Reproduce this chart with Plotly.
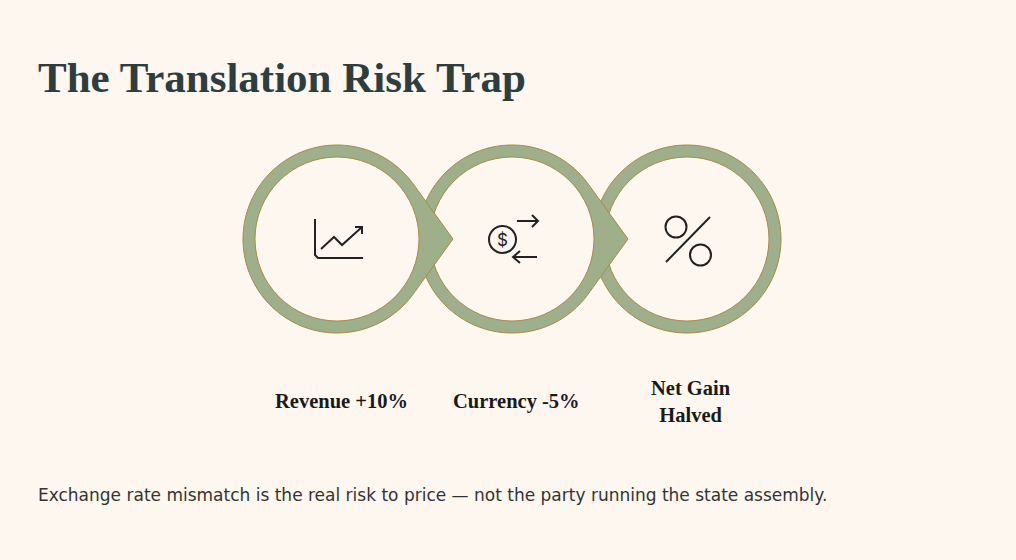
import numpy as np
import plotly.graph_objects as go

# ---- content
title = "The Translation Risk Trap"
steps = ["Revenue +10%", "Currency -5%", "Net Gain<br>Halved"]
icons = ["chart", "exchange", "percent"]
caption = ("Exchange rate mismatch is the real risk to price \u2014 "
           "not the party running the state assembly.")

# ---- look
BG = "#fdf7f0"
GREEN = "#9db08a"
EDGE = "#a88a45"
INK = "#222222"
W, H = 1016, 560
CX0, STEP, CY = 337, 175, 239
R_OUT, R_IN, TIP = 94, 82, 116

fig = go.Figure()
shapes = []


def teardrop(cx, cy, pointed=True):
    a = np.arccos(R_OUT / TIP) if pointed else 0.0
    t = np.linspace(a, 2 * np.pi - a, 160)
    xs = cx + R_OUT * np.cos(t)
    ys = cy + R_OUT * np.sin(t)
    p = "M %.2f %.2f " % (xs[0], ys[0])
    p += " ".join("L %.2f %.2f" % (x, y) for x, y in zip(xs[1:], ys[1:]))
    if pointed:
        p += " L %.2f %.2f" % (cx + TIP, cy)
    return p + " Z"


def line(x0, y0, x1, y1):
    return dict(type="line", x0=x0, y0=y0, x1=x1, y1=y1,
                line=dict(color=INK, width=2))


def poly(pts):
    p = "M " + " L ".join("%.1f %.1f" % xy for xy in pts)
    return dict(type="path", path=p, line=dict(color=INK, width=2))


def ring(x, y, r):
    return dict(type="circle", x0=x - r, y0=y - r, x1=x + r, y1=y + r,
                line=dict(color=INK, width=2))


def icon(kind, cx, cy):
    if kind == "chart":
        return [
            poly([(cx - 22, cy - 20), (cx - 22, cy + 16), (cx - 19, cy + 19), (cx + 26, cy + 19)]),
            poly([(cx - 16, cy + 10), (cx - 3, cy - 2), (cx + 5, cy + 6), (cx + 25, cy - 12)]),
            poly([(cx + 18, cy - 12), (cx + 25, cy - 12), (cx + 25, cy - 5)]),
        ]
    if kind == "exchange":
        return [
            ring(cx - 9.5, cy + 0.5, 13.5),
            line(cx + 5, cy - 18, cx + 26, cy - 18),
            poly([(cx + 20, cy - 24), (cx + 26, cy - 18), (cx + 20, cy - 12)]),
            line(cx + 25, cy + 18, cx + 1, cy + 18),
            poly([(cx + 8, cy + 12), (cx + 1, cy + 18), (cx + 8, cy + 24)]),
        ]
    return [
        ring(cx - 11, cy - 12, 10.5),
        ring(cx + 13.5, cy + 16, 10.5),
        line(cx + 23, cy - 22, cx - 21, cy + 23),
    ]


centers = [CX0 + i * STEP for i in range(len(steps))]
last = len(steps) - 1

# back to front so the first step sits on top; last step has no pointer
for i in reversed(range(len(steps))):
    cx = centers[i]
    shapes.append(dict(type="path", path=teardrop(cx, CY, i != last), fillcolor=GREEN,
                       line=dict(color=EDGE, width=1)))
    shapes.append(dict(type="circle", x0=cx - R_IN, y0=CY - R_IN,
                       x1=cx + R_IN, y1=CY + R_IN, fillcolor=BG,
                       line=dict(color=EDGE, width=1)))

annotations = []
for kind, cx, label in zip(icons, centers, steps):
    shapes += icon(kind, cx, CY)
    if kind == "exchange":
        annotations.append(dict(x=cx - 9.5, y=CY + 1, text="$", showarrow=False,
                                font=dict(family="Inter", size=17, color=INK),
                                xanchor="center", yanchor="middle"))
    annotations.append(dict(x=cx + 4, y=401, text=label, showarrow=False,
                            font=dict(family="Liberation Serif", size=20.5, color="#1a1a1a",
                                      weight="bold"),
                            xanchor="center", yanchor="middle", align="center"))

annotations.append(dict(x=36, y=77, text=title, showarrow=False,
                        font=dict(family="Liberation Serif", size=43, color="#2d3e40",
                                  weight="bold"),
                        xanchor="left", yanchor="middle"))
annotations.append(dict(x=36, y=495, text=caption, showarrow=False,
                        font=dict(family="DejaVu Sans", size=17, color="#333333"),
                        xanchor="left", yanchor="middle"))

fig.update_layout(
    width=W, height=H,
    margin=dict(l=0, r=0, t=0, b=0),
    paper_bgcolor=BG, plot_bgcolor=BG,
    xaxis=dict(range=[0, W], visible=False, fixedrange=True),
    yaxis=dict(range=[H, 0], visible=False, fixedrange=True),
    shapes=shapes,
    annotations=annotations,
    showlegend=False,
)

fig.write_html("out.html", config={"displayModeBar": False},
               post_script="document.body.style.margin='0';"
                           "document.body.style.background='%s';" % BG)
